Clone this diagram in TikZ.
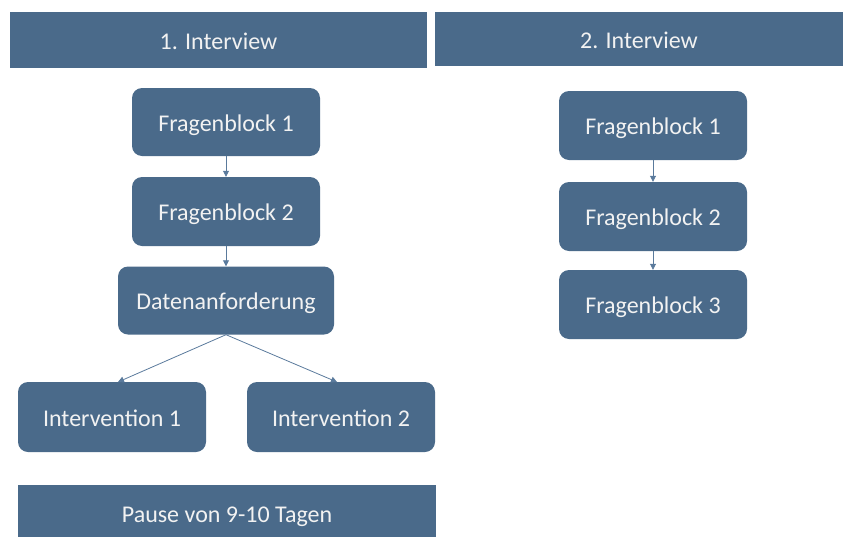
\documentclass[tikz,border=0pt]{standalone}
\usepackage{fontspec}
\setmainfont{Carlito}
\usetikzlibrary{arrows.meta}
\definecolor{boxblue}{HTML}{4A6A8A}
\definecolor{lineblue}{HTML}{5A7A9C}
\definecolor{txt}{HTML}{F2F2F2}
\tikzset{
  base/.style={fill=boxblue, draw=none, text=txt, font=\fontsize{24}{28}\selectfont, inner sep=0pt, text height=18pt, text depth=0pt},
  bar/.style={base},
  blk/.style={base, rounded corners=10pt},
  conn/.style={draw=lineblue, line width=0.8pt, -{Triangle[length=6pt,width=6pt]}}
}
\begin{document}
\begin{tikzpicture}[x=1pt,y=-1pt]
\useasboundingbox (0,0) rectangle (844,536);
\clip (0,0) rectangle (844,536);
% header bars
\node[bar, minimum width=417pt, minimum height=56pt] (h1) at (218.5,40) {1. Interview};
\node[bar, minimum width=408pt, minimum height=54pt] (h2) at (639,39) {2. Interview};
% left column
\node[blk, minimum width=188pt, minimum height=68pt] (a1) at (226,122) {Fragenblock 1};
\node[blk, minimum width=188pt, minimum height=69pt] (a2) at (226,211.5) {Fragenblock 2};
\node[blk, minimum width=216pt, minimum height=68pt] (a3) at (226,300.5) {Datenanforderung};
\node[blk, minimum width=188pt, minimum height=70pt] (i1) at (112,417) {Intervention 1};
\node[blk, minimum width=188pt, minimum height=70pt] (i2) at (341,417) {Intervention 2};
\node[bar, minimum width=418pt, minimum height=56pt] (p) at (227,513) {Pause von 9-10 Tagen};
% right column
\node[blk, minimum width=188pt, minimum height=69pt] (b1) at (653,125.5) {Fragenblock 1};
\node[blk, minimum width=188pt, minimum height=69pt] (b2) at (653,216.5) {Fragenblock 2};
\node[blk, minimum width=188pt, minimum height=69pt] (b3) at (653,304.5) {Fragenblock 3};
% connectors
\draw[conn] (a1.south) -- (a2.north);
\draw[conn] (a2.south) -- (a3.north);
\coordinate (t1) at (118,382);
\coordinate (t2) at (337,382);
\draw[conn] (a3.south) -- (t1);
\draw[conn] (a3.south) -- (t2);
\draw[conn] (b1.south) -- (b2.north);
\draw[conn] (b2.south) -- (b3.north);
\end{tikzpicture}
\end{document}
